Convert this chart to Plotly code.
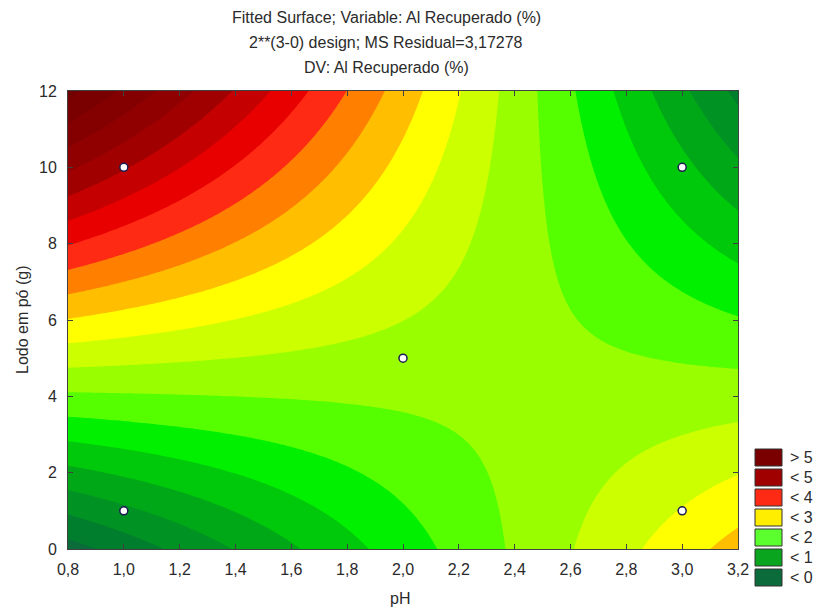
import numpy as np
import plotly.graph_objects as go

# Experimental design points (pH, Lodo em pó)
design_ph = [1.0, 1.0, 3.0, 3.0, 2.0]
design_lodo = [1.0, 10.0, 1.0, 10.0, 5.0]

# Fitted first-order model with interaction:
# Al = b0 + b_ph*pH + b_lodo*Lodo + b_int*pH*Lodo
b0 = -1.226
b_ph = 1.363
b_lodo = 0.7735
b_int = -0.317

# Contour levels
level_start = -2 / 3
level_end = 19 / 3
level_step = 1 / 3

# Fill colours: below first level, each band (upper bounds -1/3 ... 19/3), above last level
band_colors = [
    "#004d2e", "#005a33",
    "#0b6b3a", "#007d2d", "#009222", "#00a818",
    "#00c80a", "#00f000", "#55ff00",
    "#99ff00", "#ccff00", "#ffff00",
    "#ffbe00", "#ff8000", "#ff2a14",
    "#e80000", "#c40000", "#a00000",
    "#900000", "#840000", "#7a0000",
    "#700000", "#680000",
]

legend_labels = ["> 5", "< 5", "< 4", "< 3", "< 2", "< 1", "< 0"]
legend_colors = ["#7a0000", "#a00000", "#ff2a14", "#ffee00", "#5cff2e", "#0aa51e", "#0b6b3a"]

x_range = [0.8, 3.2]
y_range = [0, 12]

# Surface grid
gx = np.linspace(x_range[0], x_range[1], 241)
gy = np.linspace(y_range[0], y_range[1], 241)
GX, GY = np.meshgrid(gx, gy)
GZ = b0 + b_ph * GX + b_lodo * GY + b_int * GX * GY

# Stepwise colour scale aligned with the contour bands
nc = int(np.floor((level_end + level_step / 1e6 - level_start) / level_step)) + 1
colorscale = []
for i, c in enumerate(band_colors):
    lo = max(0.0, (i - 0.25) / nc)
    hi = min(1.0, (i + 0.75) / nc)
    if lo >= 1.0:
        break
    colorscale.append([lo, c])
    colorscale.append([hi, c])
colorscale[0][0] = 0.0
colorscale[-1][0] = 1.0

fig = go.Figure()
fig.add_trace(go.Contour(
    x=gx, y=gy, z=GZ,
    autocontour=False,
    contours=dict(start=level_start, end=level_end, size=level_step,
                  coloring="fill", showlines=False),
    line=dict(width=0),
    colorscale=colorscale,
    showscale=False,
    hoverinfo="skip",
))
fig.add_trace(go.Scatter(
    x=design_ph, y=design_lodo, mode="markers",
    marker=dict(size=8, color="white", line=dict(color="#1c1c50", width=1.5)),
    hoverinfo="skip",
))

text_color = "#2b2b2b"
font_family = "Liberation Sans, Arial, sans-serif"

axis_common = dict(
    showgrid=False, zeroline=False, showline=True, linecolor="#404040", linewidth=1,
    mirror="ticks", ticks="inside", ticklen=5, tickcolor="#404040",
    tickfont=dict(size=16, color=text_color, family=font_family),
)
fig.update_xaxes(range=x_range, tick0=0.8, dtick=0.2, tickformat=".1f",
                 ticklabelstandoff=6, **axis_common)
fig.update_yaxes(range=y_range, tick0=0, dtick=2, ticklabelstandoff=7, **axis_common)

# Title lines
annotations = []
title_lines = [
    ("Fitted Surface; Variable: Al Recuperado (%)", 18),
    ("2**(3-0) design; MS Residual=3,17278", 42),
    ("DV: Al Recuperado (%)", 67),
]
plot_top, plot_bottom, plot_left, plot_right = 91, 549, 68, 738


def py(p):
    return (plot_bottom - p) / (plot_bottom - plot_top)


def px(p):
    return (p - plot_left) / (plot_right - plot_left)


for txt, ypix in title_lines:
    annotations.append(dict(text=txt, xref="paper", yref="paper", x=px(386), y=py(ypix),
                            xanchor="center", yanchor="middle", showarrow=False,
                            font=dict(size=16, color=text_color, family=font_family)))

annotations.append(dict(text="pH", xref="paper", yref="paper", x=px(400), y=py(598),
                        xanchor="center", yanchor="middle", showarrow=False,
                        font=dict(size=16, color=text_color, family=font_family)))
annotations.append(dict(text="Lodo em pó (g)", xref="paper", yref="paper", x=px(22), y=py(320),
                        xanchor="center", yanchor="middle", showarrow=False, textangle=-90,
                        font=dict(size=16, color=text_color, family=font_family)))

# Legend boxes
shapes = []
for k, (lab, col) in enumerate(zip(legend_labels, legend_colors)):
    top = 449 + k * 20
    bot = top + 17
    shapes.append(dict(type="rect", xref="paper", yref="paper",
                       x0=px(755), x1=px(782), y0=py(bot), y1=py(top),
                       fillcolor=col, line=dict(color="#333333", width=1)))
    annotations.append(dict(text=lab, xref="paper", yref="paper", x=px(788), y=py((top + bot) / 2),
                            xanchor="left", yanchor="middle", showarrow=False,
                            font=dict(size=16, color=text_color, family=font_family)))

fig.update_layout(
    width=815, height=610,
    margin=dict(l=68, r=77, t=91, b=61),
    paper_bgcolor="white", plot_bgcolor="white",
    separators=",.",
    showlegend=False,
    font=dict(family=font_family, size=16, color=text_color),
    annotations=annotations,
    shapes=shapes,
)

fig.write_html("out.html")
